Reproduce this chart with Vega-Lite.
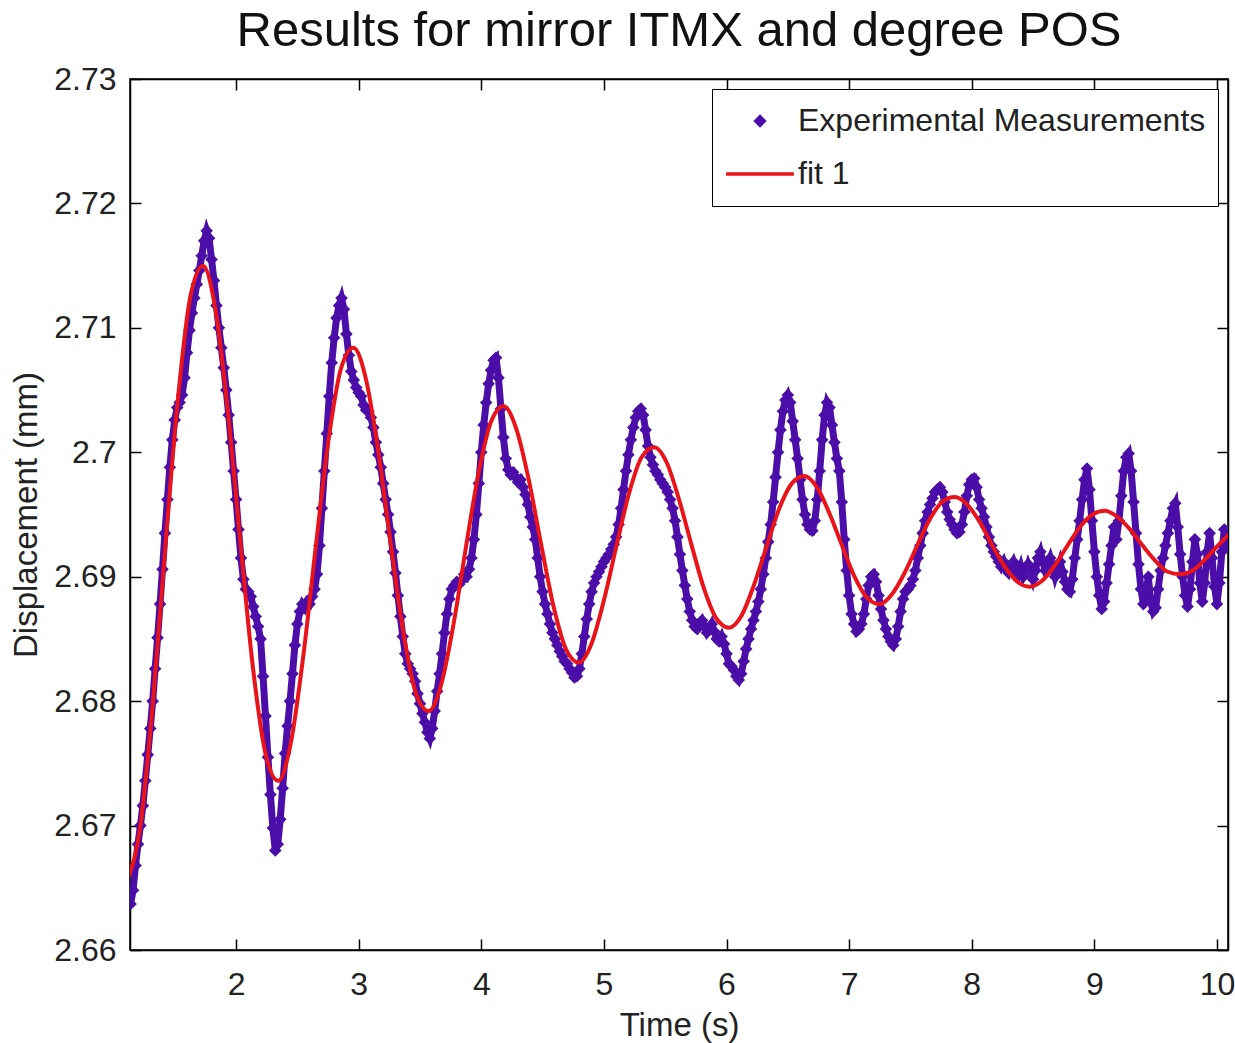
{
  "$schema": "https://vega.github.io/schema/vega-lite/v6.json",
  "width": 1098,
  "height": 871,
  "autosize": {"type": "none"},
  "padding": {"left": 130, "top": 79, "right": 7, "bottom": 93},
  "background": "white",
  "title": {"text": "Results for mirror ITMX and degree POS", "font": "Liberation Sans", "fontSize": 49, "fontWeight": "normal", "color": "#111", "anchor": "middle", "baseline": "alphabetic", "offset": -32},
  "config": {
    "view": {"stroke": "#000", "strokeWidth": 1.5},
    "axis": {"grid": false, "domainColor": "#000", "domainWidth": 1.5, "tickColor": "#000", "tickWidth": 1.5, "tickSize": -11, "labelFont": "Liberation Sans", "labelFontSize": 32, "labelColor": "#222", "titleFont": "Liberation Sans", "titleFontSize": 33, "titleFontWeight": "normal", "titleColor": "#222"}
  },
  "datasets": {
    "meas": [
      {"t":1.14,"v":2.6637},{"t":1.16,"v":2.6648},{"t":1.18,"v":2.6668},{"t":1.20,"v":2.6685},{"t":1.22,"v":2.6700},{"t":1.24,"v":2.6716},{"t":1.26,"v":2.6736},{"t":1.28,"v":2.6757},{"t":1.30,"v":2.6778},{"t":1.32,"v":2.6800},
      {"t":1.34,"v":2.6826},{"t":1.36,"v":2.6851},{"t":1.38,"v":2.6878},{"t":1.40,"v":2.6906},{"t":1.42,"v":2.6935},{"t":1.44,"v":2.6962},{"t":1.46,"v":2.6988},{"t":1.48,"v":2.7010},{"t":1.50,"v":2.7026},{"t":1.52,"v":2.7036},
      {"t":1.54,"v":2.7040},{"t":1.56,"v":2.7046},{"t":1.58,"v":2.7060},{"t":1.60,"v":2.7080},{"t":1.62,"v":2.7098},{"t":1.64,"v":2.7112},{"t":1.66,"v":2.7124},{"t":1.68,"v":2.7135},{"t":1.70,"v":2.7146},{"t":1.72,"v":2.7158},
      {"t":1.74,"v":2.7170},{"t":1.76,"v":2.7178},{"t":1.78,"v":2.7172},{"t":1.80,"v":2.7155},{"t":1.82,"v":2.7138},{"t":1.84,"v":2.7118},{"t":1.86,"v":2.7100},{"t":1.88,"v":2.7084},{"t":1.90,"v":2.7068},{"t":1.92,"v":2.7050},
      {"t":1.94,"v":2.7030},{"t":1.96,"v":2.7008},{"t":1.98,"v":2.6985},{"t":2.00,"v":2.6962},{"t":2.02,"v":2.6938},{"t":2.04,"v":2.6915},{"t":2.06,"v":2.6898},{"t":2.08,"v":2.6890},{"t":2.10,"v":2.6888},{"t":2.12,"v":2.6884},
      {"t":2.14,"v":2.6876},{"t":2.16,"v":2.6868},{"t":2.18,"v":2.6860},{"t":2.20,"v":2.6850},{"t":2.22,"v":2.6820},{"t":2.24,"v":2.6788},{"t":2.26,"v":2.6755},{"t":2.28,"v":2.6725},{"t":2.30,"v":2.6698},{"t":2.32,"v":2.6680},
      {"t":2.34,"v":2.6685},{"t":2.36,"v":2.6705},{"t":2.38,"v":2.6730},{"t":2.40,"v":2.6758},{"t":2.42,"v":2.6780},{"t":2.44,"v":2.6800},{"t":2.46,"v":2.6822},{"t":2.48,"v":2.6845},{"t":2.50,"v":2.6862},{"t":2.52,"v":2.6872},
      {"t":2.54,"v":2.6878},{"t":2.56,"v":2.6875},{"t":2.58,"v":2.6880},{"t":2.60,"v":2.6878},{"t":2.62,"v":2.6884},{"t":2.64,"v":2.6890},{"t":2.66,"v":2.6902},{"t":2.68,"v":2.6925},{"t":2.70,"v":2.6955},{"t":2.72,"v":2.6985},
      {"t":2.74,"v":2.7015},{"t":2.76,"v":2.7045},{"t":2.78,"v":2.7072},{"t":2.80,"v":2.7092},{"t":2.82,"v":2.7108},{"t":2.84,"v":2.7118},{"t":2.86,"v":2.7124},{"t":2.88,"v":2.7115},{"t":2.90,"v":2.7095},{"t":2.92,"v":2.7078},
      {"t":2.94,"v":2.7065},{"t":2.96,"v":2.7058},{"t":2.98,"v":2.7052},{"t":3.00,"v":2.7048},{"t":3.02,"v":2.7045},{"t":3.04,"v":2.7038},{"t":3.06,"v":2.7034},{"t":3.08,"v":2.7033},{"t":3.10,"v":2.7028},{"t":3.12,"v":2.7020},
      {"t":3.14,"v":2.7008},{"t":3.16,"v":2.6998},{"t":3.18,"v":2.6988},{"t":3.20,"v":2.6975},{"t":3.22,"v":2.6962},{"t":3.24,"v":2.6950},{"t":3.26,"v":2.6936},{"t":3.28,"v":2.6920},{"t":3.30,"v":2.6903},{"t":3.32,"v":2.6885},
      {"t":3.34,"v":2.6868},{"t":3.36,"v":2.6852},{"t":3.38,"v":2.6838},{"t":3.40,"v":2.6830},{"t":3.42,"v":2.6826},{"t":3.44,"v":2.6822},{"t":3.46,"v":2.6816},{"t":3.48,"v":2.6806},{"t":3.50,"v":2.6798},{"t":3.52,"v":2.6790},
      {"t":3.54,"v":2.6783},{"t":3.56,"v":2.6775},{"t":3.58,"v":2.6770},{"t":3.60,"v":2.6778},{"t":3.62,"v":2.6792},{"t":3.64,"v":2.6808},{"t":3.66,"v":2.6822},{"t":3.68,"v":2.6838},{"t":3.70,"v":2.6855},{"t":3.72,"v":2.6870},
      {"t":3.74,"v":2.6882},{"t":3.76,"v":2.6890},{"t":3.78,"v":2.6893},{"t":3.80,"v":2.6896},{"t":3.82,"v":2.6894},{"t":3.84,"v":2.6897},{"t":3.86,"v":2.6902},{"t":3.88,"v":2.6900},{"t":3.90,"v":2.6906},{"t":3.92,"v":2.6915},
      {"t":3.94,"v":2.6930},{"t":3.96,"v":2.6950},{"t":3.98,"v":2.6975},{"t":4.00,"v":2.7000},{"t":4.02,"v":2.7022},{"t":4.04,"v":2.7040},{"t":4.06,"v":2.7055},{"t":4.08,"v":2.7066},{"t":4.10,"v":2.7074},{"t":4.12,"v":2.7076},
      {"t":4.14,"v":2.7060},{"t":4.16,"v":2.7035},{"t":4.18,"v":2.7012},{"t":4.20,"v":2.6995},{"t":4.22,"v":2.6986},{"t":4.24,"v":2.6982},{"t":4.26,"v":2.6984},{"t":4.28,"v":2.6980},{"t":4.30,"v":2.6976},{"t":4.32,"v":2.6978},
      {"t":4.34,"v":2.6972},{"t":4.36,"v":2.6966},{"t":4.38,"v":2.6958},{"t":4.40,"v":2.6948},{"t":4.42,"v":2.6940},{"t":4.44,"v":2.6930},{"t":4.46,"v":2.6915},{"t":4.48,"v":2.6900},{"t":4.50,"v":2.6888},{"t":4.52,"v":2.6878},
      {"t":4.54,"v":2.6870},{"t":4.56,"v":2.6862},{"t":4.58,"v":2.6855},{"t":4.60,"v":2.6850},{"t":4.62,"v":2.6845},{"t":4.64,"v":2.6840},{"t":4.66,"v":2.6836},{"t":4.68,"v":2.6832},{"t":4.70,"v":2.6830},{"t":4.72,"v":2.6826},
      {"t":4.74,"v":2.6823},{"t":4.76,"v":2.6819},{"t":4.78,"v":2.6820},{"t":4.80,"v":2.6826},{"t":4.82,"v":2.6838},{"t":4.84,"v":2.6852},{"t":4.86,"v":2.6866},{"t":4.88,"v":2.6878},{"t":4.90,"v":2.6888},{"t":4.92,"v":2.6895},
      {"t":4.94,"v":2.6900},{"t":4.96,"v":2.6904},{"t":4.98,"v":2.6908},{"t":5.00,"v":2.6912},{"t":5.02,"v":2.6915},{"t":5.04,"v":2.6918},{"t":5.06,"v":2.6922},{"t":5.08,"v":2.6926},{"t":5.10,"v":2.6932},{"t":5.12,"v":2.6942},
      {"t":5.14,"v":2.6955},{"t":5.16,"v":2.6970},{"t":5.18,"v":2.6985},{"t":5.20,"v":2.6998},{"t":5.22,"v":2.7010},{"t":5.24,"v":2.7020},{"t":5.26,"v":2.7028},{"t":5.28,"v":2.7033},{"t":5.30,"v":2.7035},{"t":5.32,"v":2.7030},
      {"t":5.34,"v":2.7018},{"t":5.36,"v":2.7005},{"t":5.38,"v":2.6996},{"t":5.40,"v":2.6990},{"t":5.42,"v":2.6985},{"t":5.44,"v":2.6982},{"t":5.46,"v":2.6978},{"t":5.48,"v":2.6975},{"t":5.50,"v":2.6972},{"t":5.52,"v":2.6968},
      {"t":5.54,"v":2.6962},{"t":5.56,"v":2.6955},{"t":5.58,"v":2.6945},{"t":5.60,"v":2.6932},{"t":5.62,"v":2.6918},{"t":5.64,"v":2.6905},{"t":5.66,"v":2.6893},{"t":5.68,"v":2.6882},{"t":5.70,"v":2.6872},{"t":5.72,"v":2.6865},
      {"t":5.74,"v":2.6860},{"t":5.76,"v":2.6858},{"t":5.78,"v":2.6862},{"t":5.80,"v":2.6865},{"t":5.82,"v":2.6860},{"t":5.84,"v":2.6855},{"t":5.86,"v":2.6858},{"t":5.88,"v":2.6862},{"t":5.90,"v":2.6856},{"t":5.92,"v":2.6850},
      {"t":5.94,"v":2.6848},{"t":5.96,"v":2.6852},{"t":5.98,"v":2.6846},{"t":6.00,"v":2.6838},{"t":6.02,"v":2.6830},{"t":6.04,"v":2.6828},{"t":6.06,"v":2.6825},{"t":6.08,"v":2.6820},{"t":6.10,"v":2.6817},{"t":6.12,"v":2.6822},
      {"t":6.14,"v":2.6832},{"t":6.16,"v":2.6842},{"t":6.18,"v":2.6850},{"t":6.20,"v":2.6858},{"t":6.22,"v":2.6865},{"t":6.24,"v":2.6872},{"t":6.26,"v":2.6880},{"t":6.28,"v":2.6890},{"t":6.30,"v":2.6902},{"t":6.32,"v":2.6915},
      {"t":6.34,"v":2.6928},{"t":6.36,"v":2.6942},{"t":6.38,"v":2.6960},{"t":6.40,"v":2.6980},{"t":6.42,"v":2.7000},{"t":6.44,"v":2.7018},{"t":6.46,"v":2.7033},{"t":6.48,"v":2.7042},{"t":6.50,"v":2.7046},{"t":6.52,"v":2.7040},
      {"t":6.54,"v":2.7025},{"t":6.56,"v":2.7010},{"t":6.58,"v":2.6995},{"t":6.60,"v":2.6978},{"t":6.62,"v":2.6962},{"t":6.64,"v":2.6950},{"t":6.66,"v":2.6942},{"t":6.68,"v":2.6938},{"t":6.70,"v":2.6937},{"t":6.72,"v":2.6945},
      {"t":6.74,"v":2.6962},{"t":6.76,"v":2.6985},{"t":6.78,"v":2.7010},{"t":6.80,"v":2.7030},{"t":6.82,"v":2.7040},{"t":6.84,"v":2.7036},{"t":6.86,"v":2.7022},{"t":6.88,"v":2.7008},{"t":6.90,"v":2.6995},{"t":6.92,"v":2.6985},
      {"t":6.94,"v":2.6960},{"t":6.96,"v":2.6930},{"t":6.98,"v":2.6905},{"t":7.00,"v":2.6885},{"t":7.02,"v":2.6870},{"t":7.04,"v":2.6862},{"t":7.06,"v":2.6856},{"t":7.08,"v":2.6858},{"t":7.10,"v":2.6862},{"t":7.12,"v":2.6870},
      {"t":7.14,"v":2.6882},{"t":7.16,"v":2.6893},{"t":7.18,"v":2.6900},{"t":7.20,"v":2.6902},{"t":7.22,"v":2.6896},{"t":7.24,"v":2.6885},{"t":7.26,"v":2.6874},{"t":7.28,"v":2.6865},{"t":7.30,"v":2.6858},{"t":7.32,"v":2.6852},
      {"t":7.34,"v":2.6848},{"t":7.36,"v":2.6845},{"t":7.38,"v":2.6850},{"t":7.40,"v":2.6860},{"t":7.42,"v":2.6872},{"t":7.44,"v":2.6882},{"t":7.46,"v":2.6888},{"t":7.48,"v":2.6890},{"t":7.50,"v":2.6893},{"t":7.52,"v":2.6898},
      {"t":7.54,"v":2.6905},{"t":7.56,"v":2.6915},{"t":7.58,"v":2.6925},{"t":7.60,"v":2.6935},{"t":7.62,"v":2.6945},{"t":7.64,"v":2.6952},{"t":7.66,"v":2.6958},{"t":7.68,"v":2.6963},{"t":7.70,"v":2.6968},{"t":7.72,"v":2.6970},
      {"t":7.74,"v":2.6972},{"t":7.76,"v":2.6968},{"t":7.78,"v":2.6960},{"t":7.80,"v":2.6952},{"t":7.82,"v":2.6946},{"t":7.84,"v":2.6942},{"t":7.86,"v":2.6938},{"t":7.88,"v":2.6935},{"t":7.90,"v":2.6936},{"t":7.92,"v":2.6942},
      {"t":7.94,"v":2.6952},{"t":7.96,"v":2.6965},{"t":7.98,"v":2.6974},{"t":8.00,"v":2.6978},{"t":8.02,"v":2.6979},{"t":8.04,"v":2.6972},{"t":8.06,"v":2.6962},{"t":8.08,"v":2.6955},{"t":8.10,"v":2.6948},{"t":8.12,"v":2.6940},
      {"t":8.14,"v":2.6932},{"t":8.16,"v":2.6925},{"t":8.18,"v":2.6920},{"t":8.20,"v":2.6916},{"t":8.22,"v":2.6912},{"t":8.24,"v":2.6908},{"t":8.26,"v":2.6912},{"t":8.28,"v":2.6906},{"t":8.30,"v":2.6903},{"t":8.32,"v":2.6908},
      {"t":8.34,"v":2.6912},{"t":8.36,"v":2.6906},{"t":8.38,"v":2.6902},{"t":8.40,"v":2.6908},{"t":8.42,"v":2.6900},{"t":8.44,"v":2.6904},{"t":8.46,"v":2.6910},{"t":8.48,"v":2.6905},{"t":8.50,"v":2.6898},{"t":8.52,"v":2.6905},
      {"t":8.54,"v":2.6915},{"t":8.56,"v":2.6920},{"t":8.58,"v":2.6912},{"t":8.60,"v":2.6905},{"t":8.62,"v":2.6910},{"t":8.64,"v":2.6915},{"t":8.66,"v":2.6908},{"t":8.68,"v":2.6900},{"t":8.70,"v":2.6906},{"t":8.72,"v":2.6912},
      {"t":8.74,"v":2.6904},{"t":8.76,"v":2.6896},{"t":8.78,"v":2.6890},{"t":8.80,"v":2.6888},{"t":8.82,"v":2.6898},{"t":8.84,"v":2.6915},{"t":8.86,"v":2.6930},{"t":8.88,"v":2.6945},{"t":8.90,"v":2.6962},{"t":8.92,"v":2.6978},
      {"t":8.94,"v":2.6987},{"t":8.96,"v":2.6970},{"t":8.98,"v":2.6945},{"t":9.00,"v":2.6920},{"t":9.02,"v":2.6900},{"t":9.04,"v":2.6885},{"t":9.06,"v":2.6874},{"t":9.08,"v":2.6880},{"t":9.10,"v":2.6895},{"t":9.12,"v":2.6910},
      {"t":9.14,"v":2.6925},{"t":9.16,"v":2.6940},{"t":9.18,"v":2.6930},{"t":9.20,"v":2.6945},{"t":9.22,"v":2.6965},{"t":9.24,"v":2.6985},{"t":9.26,"v":2.6996},{"t":9.28,"v":2.6999},{"t":9.30,"v":2.6985},{"t":9.32,"v":2.6960},
      {"t":9.34,"v":2.6935},{"t":9.36,"v":2.6910},{"t":9.38,"v":2.6890},{"t":9.40,"v":2.6878},{"t":9.42,"v":2.6885},{"t":9.44,"v":2.6900},{"t":9.46,"v":2.6880},{"t":9.48,"v":2.6872},{"t":9.50,"v":2.6875},{"t":9.52,"v":2.6890},
      {"t":9.54,"v":2.6905},{"t":9.56,"v":2.6915},{"t":9.58,"v":2.6925},{"t":9.60,"v":2.6935},{"t":9.62,"v":2.6945},{"t":9.64,"v":2.6955},{"t":9.66,"v":2.6959},{"t":9.68,"v":2.6940},{"t":9.70,"v":2.6918},{"t":9.72,"v":2.6900},
      {"t":9.74,"v":2.6885},{"t":9.76,"v":2.6876},{"t":9.78,"v":2.6890},{"t":9.80,"v":2.6912},{"t":9.82,"v":2.6930},{"t":9.84,"v":2.6918},{"t":9.86,"v":2.6895},{"t":9.88,"v":2.6880},{"t":9.90,"v":2.6895},{"t":9.92,"v":2.6920},
      {"t":9.94,"v":2.6935},{"t":9.96,"v":2.6915},{"t":9.98,"v":2.6892},{"t":10.00,"v":2.6878},{"t":10.02,"v":2.6895},{"t":10.04,"v":2.6920},{"t":10.06,"v":2.6938},{"t":10.08,"v":2.6925}
    ],
    "fit": [
      {"t":1.118,"v":2.6657},{"t":1.220,"v":2.6700},{"t":1.322,"v":2.6799},{"t":1.424,"v":2.6925},{"t":1.527,"v":2.7044},{"t":1.629,"v":2.7126},
      {"t":1.731,"v":2.7150},{"t":1.833,"v":2.7114},{"t":1.935,"v":2.7031},{"t":2.038,"v":2.6925},{"t":2.140,"v":2.6825},{"t":2.242,"v":2.6757},
      {"t":2.344,"v":2.6736},{"t":2.446,"v":2.6766},{"t":2.548,"v":2.6836},{"t":2.651,"v":2.6925},{"t":2.753,"v":2.7009},{"t":2.855,"v":2.7067},
      {"t":2.957,"v":2.7084},{"t":3.059,"v":2.7059},{"t":3.161,"v":2.7000},{"t":3.264,"v":2.6925},{"t":3.366,"v":2.6854},{"t":3.468,"v":2.6806},
      {"t":3.570,"v":2.6792},{"t":3.672,"v":2.6813},{"t":3.774,"v":2.6862},{"t":3.877,"v":2.6925},{"t":3.979,"v":2.6984},{"t":4.081,"v":2.7025},
      {"t":4.183,"v":2.7037},{"t":4.285,"v":2.7019},{"t":4.387,"v":2.6978},{"t":4.490,"v":2.6925},{"t":4.592,"v":2.6875},{"t":4.694,"v":2.6841},
      {"t":4.796,"v":2.6831},{"t":4.898,"v":2.6846},{"t":5.000,"v":2.6881},{"t":5.103,"v":2.6925},{"t":5.205,"v":2.6967},{"t":5.307,"v":2.6996},
      {"t":5.409,"v":2.7004},{"t":5.511,"v":2.6992},{"t":5.613,"v":2.6962},{"t":5.716,"v":2.6925},{"t":5.818,"v":2.6890},{"t":5.920,"v":2.6866},
      {"t":6.022,"v":2.6859},{"t":6.124,"v":2.6869},{"t":6.226,"v":2.6894},{"t":6.329,"v":2.6925},{"t":6.431,"v":2.6955},{"t":6.533,"v":2.6975},
      {"t":6.635,"v":2.6981},{"t":6.737,"v":2.6972},{"t":6.839,"v":2.6951},{"t":6.942,"v":2.6925},{"t":7.044,"v":2.6900},{"t":7.146,"v":2.6883},
      {"t":7.248,"v":2.6878},{"t":7.350,"v":2.6886},{"t":7.452,"v":2.6903},{"t":7.555,"v":2.6925},{"t":7.657,"v":2.6946},{"t":7.759,"v":2.6960},
      {"t":7.861,"v":2.6964},{"t":7.963,"v":2.6958},{"t":8.065,"v":2.6944},{"t":8.168,"v":2.6925},{"t":8.270,"v":2.6908},{"t":8.372,"v":2.6896},
      {"t":8.474,"v":2.6892},{"t":8.576,"v":2.6897},{"t":8.678,"v":2.6909},{"t":8.781,"v":2.6925},{"t":8.883,"v":2.6940},{"t":8.985,"v":2.6950},
      {"t":9.087,"v":2.6953},{"t":9.189,"v":2.6948},{"t":9.291,"v":2.6938},{"t":9.394,"v":2.6925},{"t":9.496,"v":2.6913},{"t":9.598,"v":2.6904},
      {"t":9.700,"v":2.6902},{"t":9.802,"v":2.6905},{"t":9.904,"v":2.6914},{"t":10.007,"v":2.6925},{"t":10.109,"v":2.6935}
    ]
  },
  "layer": [
    {
      "data": {"name": "meas"},
      "mark": {"type": "line", "color": "#4b0ea8", "strokeWidth": 7, "clip": true},
      "encoding": {
        "x": {"field": "t", "type": "quantitative", "scale": {"domain": [1.135, 10.09], "nice": false, "zero": false}, "axis": null},
        "y": {"field": "v", "type": "quantitative", "scale": {"domain": [2.66, 2.73], "nice": false, "zero": false}, "axis": null}
      }
    },
    {
      "data": {"name": "meas"},
      "mark": {"type": "point", "filled": true, "opacity": 1, "stroke": "#4b0ea8", "strokeWidth": 3, "clip": true},
      "encoding": {
        "x": {"field": "t", "type": "quantitative", "scale": {"domain": [1.135, 10.09], "nice": false, "zero": false}, "axis": {"orient": "bottom", "values": [2, 3, 4, 5, 6, 7, 8, 9, 10], "title": "Time (s)", "labelPadding": 30, "titlePadding": 9}},
        "y": {"field": "v", "type": "quantitative", "scale": {"domain": [2.66, 2.73], "nice": false, "zero": false}, "axis": {"orient": "left", "values": [2.66, 2.67, 2.68, 2.69, 2.7, 2.71, 2.72, 2.73], "format": "~g", "title": "Displacement (mm)", "labelPadding": 25, "titlePadding": 10}},
        "shape": {"datum": "Experimental Measurements", "scale": {"domain": ["Experimental Measurements", "fit 1"], "range": ["diamond", "stroke"]}},
        "size": {"datum": "Experimental Measurements", "scale": {"type": "ordinal", "domain": ["Experimental Measurements", "fit 1"], "range": [70, 4600]}},
        "color": {
          "datum": "Experimental Measurements",
          "scale": {"domain": ["Experimental Measurements", "fit 1"], "range": ["#4b0ea8", "#e8141a"]},
          "legend": {
            "title": null, "orient": "top-right", "offset": 10, "padding": 12,
            "strokeColor": "#000", "fillColor": "white", "cornerRadius": 0,
            "labelFont": "Liberation Sans", "labelFontSize": 32, "labelColor": "#222", "labelOffset": 2, "labelLimit": 700,
            "symbolStrokeWidth": 3.5, "clipHeight": 40, "rowPadding": 13, "symbolOffset": 0, "symbolOpacity": 1
          }
        }
      }
    },
    {
      "data": {"name": "fit"},
      "mark": {"type": "line", "strokeWidth": 4, "interpolate": "monotone", "clip": true},
      "encoding": {
        "x": {"field": "t", "type": "quantitative", "scale": {"domain": [1.135, 10.09], "nice": false, "zero": false}, "axis": {"orient": "top", "values": [2, 3, 4, 5, 6, 7, 8, 9, 10], "labels": false, "title": null}},
        "y": {"field": "v", "type": "quantitative", "scale": {"domain": [2.66, 2.73], "nice": false, "zero": false}, "axis": {"orient": "right", "values": [2.66, 2.67, 2.68, 2.69, 2.7, 2.71, 2.72, 2.73], "labels": false, "title": null}},
        "color": {"datum": "fit 1"}
      }
    }
  ],
  "resolve": {"axis": {"x": "independent", "y": "independent"}}
}
